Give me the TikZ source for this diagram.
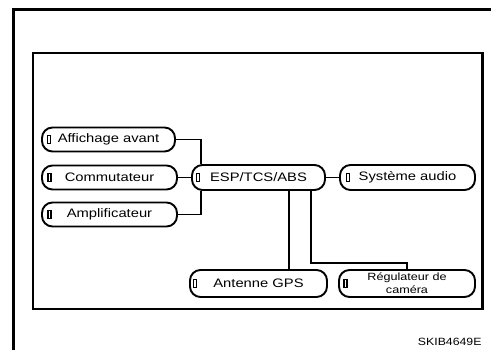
\documentclass[tikz,border=0pt]{standalone}
\usepackage{graphicx}
\usepackage{fontspec}
\setmainfont{Liberation Sans}
% labels are set slightly widened
\newcommand{\wide}[1]{\scalebox{1.2}[1]{#1}}
\begin{document}
\begin{tikzpicture}[x=1pt,y=-1pt,
  unit/.style={draw,line width=1.9pt,rounded corners=10.5pt,fill=white,
    inner sep=0pt,font=\fontsize{12.3}{14}\selectfont,align=center},
  wire/.style={line width=1.9pt},
  pinbox/.style={line width=1.5pt}]
\useasboundingbox (0,0) rectangle (491,350);
% page frame
\draw[line width=3pt] (491,9.5) -- (13.7,9.5) -- (13.7,350);
% panel frame
\draw[line width=1.8pt] (33,309) -- (33,53) -- (482.5,53);
\draw[line width=2.8pt] (482.5,52.2) -- (482.5,309) -- (32.2,309);
% units
\node[unit,minimum width=133pt,minimum height=24pt] (aff) at (108.5,139.5) {\wide{Affichage avant}};
\node[unit,minimum width=135pt,minimum height=24pt] (com) at (109.5,177.5) {\wide{Commutateur}};
\node[unit,minimum width=135pt,minimum height=24pt] (amp) at (109.5,214.5) {\wide{Amplificateur}};
\node[unit,minimum width=133pt,minimum height=25pt] (esp) at (258.5,177.5) {\wide{ESP/TCS/ABS}};
\node[unit,minimum width=135pt,minimum height=25pt] (sys) at (407.5,177.5) {\wide{Système audio}};
\node[unit,minimum width=137pt,minimum height=27pt] (ant) at (258.5,283.5) {\wide{Antenne GPS}};
\node[unit,minimum width=136pt,minimum height=27pt,
  font=\fontsize{10.5}{12.5}\selectfont] (reg) at (407,283.5) {\raisebox{1pt}{\wide{Régulateur de}}\\[-0.5pt]\wide{caméra}};
% wiring
\draw[wire] (aff.east) -| ([xshift=9.5pt]esp.north west);
\draw[wire] (amp.east) -| ([xshift=9.5pt]esp.south west);
\draw[wire] (com) -- (esp);
\draw[wire] (esp) -- (sys);
\draw[wire] ([xshift=98pt]esp.south west) -- ([xshift=98pt]esp.south west |- ant.north);
\draw[wire] ([xshift=120pt]esp.south west) |- ([yshift=6pt]reg.north) -- (reg.north);
% connector marks
\foreach \n/\d in {aff/8,com/8.5,amp/8.5,esp/7,sys/9,ant/6,reg/7.5}
  \draw[pinbox] ([xshift=\d pt]\n.west) ++(-1.5,-4.2) rectangle ++(3,8.4);
% drawing code
\node[anchor=east,font=\fontsize{10.5}{12}\selectfont] (code) at (485,341.5) {\scalebox{1.17}[1]{SKIB4649E}};
\end{tikzpicture}
\end{document}
